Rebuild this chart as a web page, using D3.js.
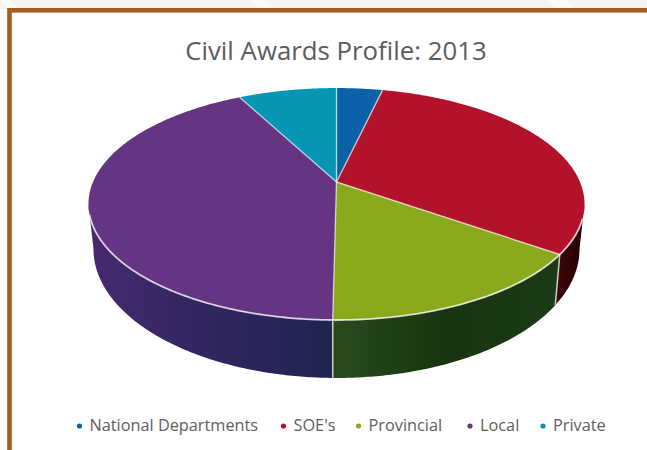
<!DOCTYPE html>
<html>
<head>
<meta charset="utf-8">
<script src="https://cdn.jsdelivr.net/npm/d3@7"></script>
<style>
html,body{margin:0;padding:0;background:#fff;}
svg{display:block;}
</style>
</head>
<body>
<svg id="chart" width="647" height="450"></svg>
<script>
const categories = ["National Departments", "SOE's", "Provincial", "Local", "Private"];
const shares = [3.6, 31.2, 15.4, 42.1, 7.7];
const topColors = ["#0b62a8", "#b3122b", "#8aa81c", "#653583", "#0795b4"];
const wallLeft = ["#06386a", "#3c060a", "#2a4a1e", "#47296f", "#055a70"];
const wallMid = ["#052e58", "#300306", "#183410", "#30265f", "#044a5e"];
const wallRight = ["#042848", "#1e0000", "#1c3a16", "#1f2450", "#033c4c"];
const legendX = [79.5, 283.5, 358.5, 470, 543];
const titleText = "Civil Awards Profile: 2013";

const svg = d3.select("#chart");
const defs = svg.append("defs");

// Page backdrop with the pale banner strip and its diagonal highlights
svg.append("rect").attr("width", 647).attr("height", 450).attr("fill", "#ffffff");
svg.append("rect").attr("width", 647).attr("height", 9).attr("fill", "#f5f4ef");
[[0, 10], [250, 265], [548, 566]].forEach(b => {
  svg.append("polygon")
    .attr("points", `${b[0]},0 ${b[1]},0 ${b[1] + 8},9 ${b[0] + 8},9`)
    .attr("fill", "#fbfaf8");
});
svg.append("rect").attr("x", 9.5).attr("y", 10.3).attr("width", 660).attr("height", 460)
  .attr("fill", "#ffffff").attr("stroke", "#a85a20").attr("stroke-width", 4.6);

// The disc is tilted, so its rims are circles seen through a perspective map.
const tilt = 0.19;
function rim(cx, cy, a, b) {
  return theta => {
    const u = Math.sin(theta), v = Math.cos(theta), w = 1 + tilt * v;
    return [cx + a * u / w, cy - b * v / w];
  };
}
const topRim = rim(336.5, 182, 243.5, 111.8);
const lowRim = rim(336.5, 224.5, 238.6, 124.3);
const apex = [336.5, 182];

const arcs = d3.pie().sort(null).value(d => d)(shares);
const line = d3.line();
const deg = Math.PI / 180;

function sweep(from, to) {
  const n = Math.max(2, Math.ceil((to - from) / 0.01));
  return d3.range(n + 1).map(i => from + (to - from) * i / n);
}

// Side wall: only the part of each slice facing the viewer is visible.
const wallFrom = 101 * deg, wallTo = 259 * deg;
const seams = [];
arcs.forEach((d, i) => {
  const a = Math.max(d.startAngle, wallFrom), b = Math.min(d.endAngle, wallTo);
  if (a >= b) return;
  const gid = "wall" + i;
  const g = defs.append("linearGradient").attr("id", gid)
    .attr("gradientUnits", "userSpaceOnUse")
    .attr("x1", topRim(b)[0]).attr("x2", topRim(a)[0]).attr("y1", 0).attr("y2", 0);
  g.append("stop").attr("offset", 0).attr("stop-color", wallLeft[i]);
  g.append("stop").attr("offset", 0.5).attr("stop-color", wallMid[i]);
  g.append("stop").attr("offset", 1).attr("stop-color", wallRight[i]);
  const angles = sweep(a, b);
  const pts = angles.map(topRim).concat(angles.slice().reverse().map(lowRim));
  svg.append("path").attr("d", line(pts) + "Z").attr("fill", "url(#" + gid + ")");
  if (d.startAngle > wallFrom) seams.push(a);
});

// Pale seams between neighbouring walls
seams.forEach(a => {
  svg.append("path").attr("d", line([topRim(a), lowRim(a)]))
    .attr("stroke", "#c9d0bc").attr("stroke-width", 1.5).attr("fill", "none");
});

// Top face of every slice
arcs.forEach((d, i) => {
  const pts = [apex].concat(sweep(d.startAngle, d.endAngle).map(topRim));
  svg.append("path").attr("d", line(pts) + "Z").attr("fill", topColors[i]);
});

// Spokes between slices
arcs.forEach(d => {
  svg.append("path").attr("d", line([apex, topRim(d.startAngle)]))
    .attr("stroke", "#ffffff").attr("stroke-opacity", 0.62).attr("stroke-width", 1.4).attr("fill", "none");
});

// Bright front edge of the top face
svg.append("path").attr("d", line(sweep(108 * deg, 254 * deg).map(topRim)))
  .attr("stroke", "#ffffff").attr("stroke-opacity", 0.75).attr("stroke-width", 1.8).attr("fill", "none");

svg.append("text").attr("x", 336).attr("y", 59.5).attr("text-anchor", "middle")
  .attr("font-family", "'Open Sans', sans-serif").attr("font-size", 25.8)
  .attr("fill", "#5c5c5e").text(titleText);

const legend = svg.append("g").attr("font-family", "'Open Sans', sans-serif")
  .attr("font-size", 16.3).attr("fill", "#5e5e62");
categories.forEach((c, i) => {
  legend.append("circle").attr("cx", legendX[i]).attr("cy", 426).attr("r", 2.6).attr("fill", topColors[i]);
  legend.append("text").attr("x", legendX[i] + 10).attr("y", 431).text(c);
});
</script>
</body>
</html>
